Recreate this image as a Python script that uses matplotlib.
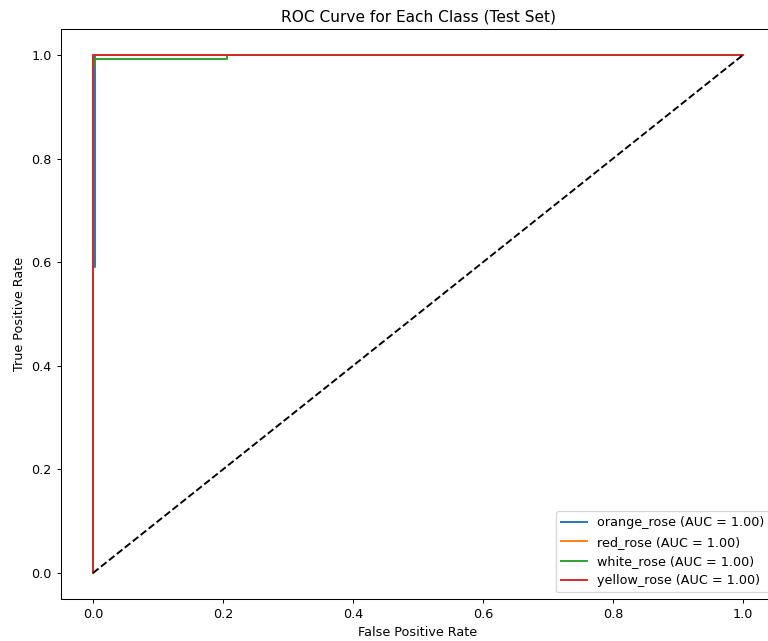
import matplotlib
matplotlib.use("Agg")
import matplotlib.pyplot as plt

# ==========================
# ROC data per class
# ==========================
class_names = ["orange_rose", "red_rose", "white_rose", "yellow_rose"]
auc_values = [1.00, 1.00, 1.00, 1.00]

fpr_orange = [0.0, 0.0, 0.003, 0.003, 1.0]
tpr_orange = [0.0, 0.59, 0.59, 1.0, 1.0]

fpr_red = [0.0, 0.0, 1.0]
tpr_red = [0.0, 1.0, 1.0]

fpr_white = [0.0, 0.0, 0.003, 0.003, 0.206, 0.206, 1.0]
tpr_white = [0.0, 0.98, 0.98, 0.992, 0.992, 1.0, 1.0]

fpr_yellow = [0.0, 0.0, 1.0]
tpr_yellow = [0.0, 1.0, 1.0]

fprs = [fpr_orange, fpr_red, fpr_white, fpr_yellow]
tprs = [tpr_orange, tpr_red, tpr_white, tpr_yellow]

# ==========================
# Draw (reference looks rendered at ~92 dpi)
# ==========================
dpi = 92
fig = plt.figure(figsize=(768 / dpi, 641 / dpi), dpi=dpi)
ax = fig.add_axes([0.0788, 0.0657, 0.931, 0.889])

for name, auc, fpr, tpr in zip(class_names, auc_values, fprs, tprs):
    ax.plot(fpr, tpr, label=f"{name} (AUC = {auc:.2f})")

ax.plot([0, 1], [0, 1], "k--")
ax.set_xlabel("False Positive Rate")
ax.set_ylabel("True Positive Rate")
ax.set_title("ROC Curve for Each Class (Test Set)")
ax.legend(loc="lower right")

fig.savefig("out.png", dpi=dpi)
